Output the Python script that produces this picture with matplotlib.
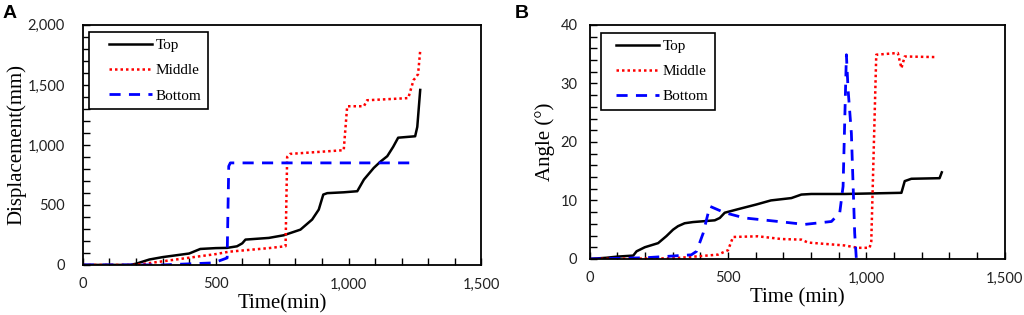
import numpy as np
import matplotlib
matplotlib.use('Agg')
import matplotlib.pyplot as plt
from matplotlib.lines import Line2D
from matplotlib.legend_handler import HandlerLine2D
from matplotlib.ticker import MultipleLocator, FuncFormatter

# Panel A: displacement (mm) vs time (min)
a_top_t = [0, 178, 200, 250, 300, 350, 400, 442, 500, 543, 580, 600, 612, 700, 756,
           819, 863, 888, 905, 920, 982, 1033, 1058, 1095, 1120, 1146, 1168, 1187,
           1251, 1259, 1270]
a_top_d = [0, 0, 10, 45, 65, 80, 95, 133, 140, 142, 155, 180, 211, 225, 247,
           294, 378, 461, 586, 598, 605, 614, 711, 808, 860, 906, 983, 1060,
           1072, 1150, 1458]

a_mid_t = [0, 200, 300, 400, 500, 550, 600, 700, 763, 769, 780, 982, 995, 1058,
           1070, 1225, 1245, 1255, 1262, 1270]
a_mid_d = [0, 0, 30, 60, 90, 110, 120, 140, 156, 900, 925, 956, 1322, 1322,
           1372, 1390, 1540, 1567, 1590, 1785]

a_bot_t = [0, 300, 492, 543, 549, 555, 1259]
a_bot_d = [0, 0, 17, 58, 822, 850, 850]

# Panel B: angle (deg) vs time (min)
b_top_t = [0, 60, 100, 157, 169, 199, 247, 277, 301, 319, 343, 373, 452, 470, 488,
           536, 602, 655, 729, 765, 801, 922, 1127, 1139, 1163, 1265, 1273]
b_top_a = [0, 0.2, 0.4, 0.57, 1.3, 2, 2.7, 3.9, 5, 5.6, 6.1, 6.3, 6.6, 7, 7.9,
           8.5, 9.3, 10, 10.4, 11, 11.1, 11.1, 11.3, 13.3, 13.7, 13.8, 14.8]

b_mid_t = [0, 300, 392, 464, 500, 518, 608, 693, 765, 789, 922, 970, 1012, 1018,
           1036, 1114, 1127, 1139, 1247]
b_mid_a = [0, 0.1, 0.45, 0.74, 1.5, 3.75, 3.87, 3.4, 3.3, 2.8, 2.3, 1.9, 1.9, 3,
           34.9, 35.2, 32.6, 34.6, 34.5]

b_bot_t = [0, 200, 300, 367, 386, 410, 434, 488, 560, 681, 777, 874, 904, 916,
           928, 934, 946, 958, 964]
b_bot_a = [0, 0.2, 0.5, 0.7, 1.3, 4.4, 9, 7.9, 7, 6.4, 5.9, 6.4, 7.9, 12.4,
           34.9, 29, 21.5, 4.4, 0]

serif = 'Liberation Serif'
sans = 'Lato'

fig = plt.figure(figsize=(10.24, 3.15), dpi=100)
axA = fig.add_axes([0.081, 0.159, 0.389, 0.762])
axB = fig.add_axes([0.576, 0.178, 0.405, 0.743])

comma = FuncFormatter(lambda v, p: f'{int(v):,}')


def style(ax, ymax, ymajor, yminor, ylabel, xlabel, ypad, ylabelpad, leg_anchor, hpad):
    ax.set_xlim(0, 1500)
    ax.set_ylim(0, ymax)
    ax.xaxis.set_major_locator(MultipleLocator(500))
    ax.xaxis.set_minor_locator(MultipleLocator(100))
    ax.yaxis.set_major_locator(MultipleLocator(ymajor))
    ax.yaxis.set_minor_locator(MultipleLocator(yminor))
    ax.xaxis.set_major_formatter(comma)
    ax.yaxis.set_major_formatter(comma)
    ax.tick_params(which='both', direction='in', top=False, right=False,
                   width=1, length=5, labelsize=10.5)
    ax.tick_params(axis='x', which='both', pad=9)
    ax.tick_params(axis='y', which='both', pad=ypad)
    for lab in ax.get_xticklabels() + ax.get_yticklabels():
        lab.set_fontfamily(sans)
        lab.set_color('#222222')
    for s in ax.spines.values():
        s.set_linewidth(1.3)
    ax.set_ylabel(ylabel, fontfamily=serif, fontsize=15, labelpad=ylabelpad)
    ax.set_xlabel(xlabel, fontfamily=serif, fontsize=15, labelpad=2)
    leg = ax.legend(loc='upper left', bbox_to_anchor=leg_anchor, borderaxespad=0,
                    prop={'family': serif, 'size': 11},
                    handlelength=2.8 + hpad,
                    handler_map={Line2D: HandlerLine2D(xpad=hpad)},
                    fancybox=False, edgecolor='black', framealpha=1,
                    labelspacing=0.75, borderpad=0.42, handletextpad=0.25)
    leg.get_frame().set_linewidth(1.2)


axA.plot(a_top_t, a_top_d, color='black', lw=1.8, label='Top')
axA.plot(a_mid_t, a_mid_d, color='red', lw=1.8, ls=(0, (1, 1.2)), label='Middle')
axA.plot(a_bot_t, a_bot_d, color='blue', lw=2, ls=(0, (4, 3)), label='Bottom')
style(axA, 2000, 500, 100, 'Displacement(mm)', 'Time(min)', 13, 1,
      (0.015, 0.97), 0.9)

axB.plot(b_top_t, b_top_a, color='black', lw=1.8, label='Top')
axB.plot(b_mid_t, b_mid_a, color='red', lw=1.8, ls=(0, (1, 1.2)), label='Middle')
axB.plot(b_bot_t, b_bot_a, color='blue', lw=2, ls=(0, (4, 3)), label='Bottom')
style(axB, 40, 10, 2, 'Angle (°)', 'Time (min)', 9, 4,
      (0.027, 0.965), 0.55)

fig.text(0.002, 0.942, 'A', fontfamily='Liberation Sans', fontweight='bold', fontsize=14)
fig.text(0.503, 0.942, 'B', fontfamily='Liberation Sans', fontweight='bold', fontsize=14)

fig.savefig('out.png', dpi=100)
